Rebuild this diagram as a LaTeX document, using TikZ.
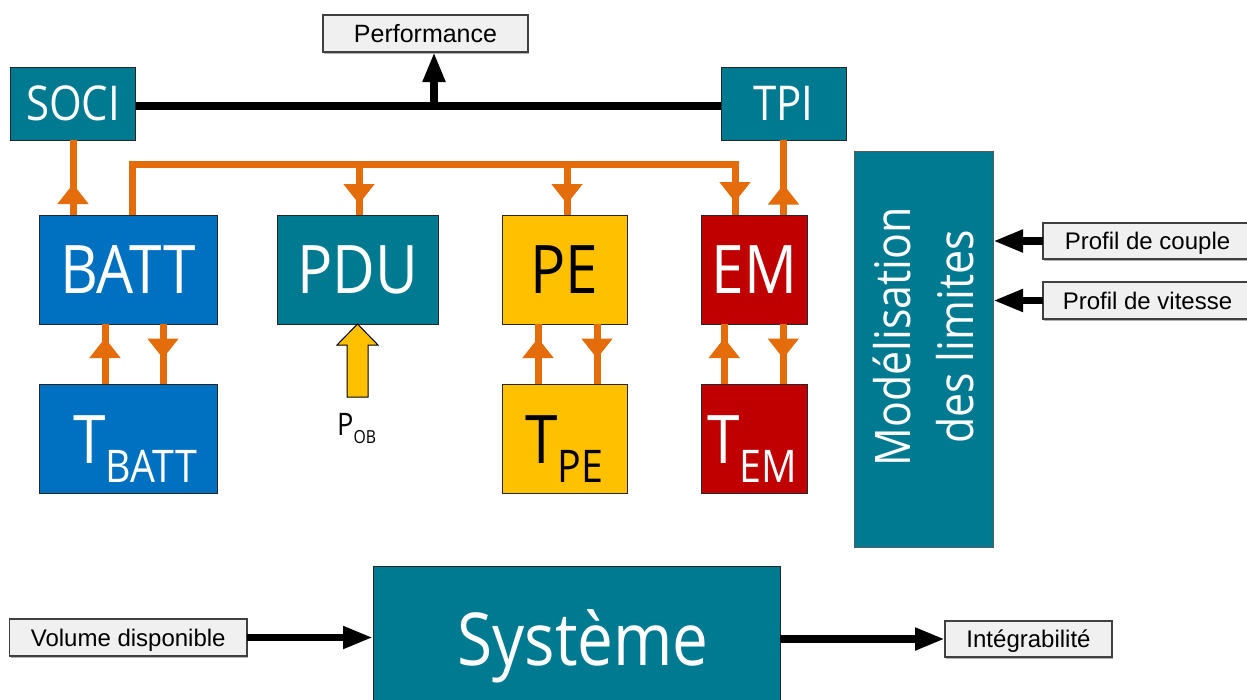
\documentclass[tikz,border=0pt]{standalone}
\usepackage{fontspec}
\setmainfont{Liberation Sans}
\newfontfamily\boxfont{Open Sans}[FakeStretch=0.875]
\usetikzlibrary{arrows.meta,decorations.markings,shadows}

\definecolor{petrol}{HTML}{007A91}
\definecolor{battblue}{HTML}{0070C0}
\definecolor{peyellow}{HTML}{FFC000}
\definecolor{emred}{HTML}{C00000}
\definecolor{wire}{HTML}{E46C0A}
\definecolor{tagfill}{HTML}{F0F0F0}

% temperature label: big T with a lowered index
\newcommand\tempsym[1]{T\raisebox{-19pt}{\fontsize{45}{45}\selectfont #1}}

\begin{document}
\begin{tikzpicture}[x=1pt,y=-1pt,
  blk/.style={draw=black!85,line width=1pt,inner sep=0pt,outer sep=0pt},
  bigtext/.style={font=\boxfont\fontsize{67}{67}\selectfont},
  midtext/.style={font=\boxfont\fontsize{48}{48}\selectfont},
  tag/.style={draw=black!75,line width=1.2pt,fill=tagfill,inner sep=0pt,outer sep=0pt,
    text height=17.5pt,text depth=0pt,
    general shadow={fill=black!30,shadow xshift=1pt,shadow yshift=-1.5pt},
    font=\fontsize{24}{24}\selectfont},
  wireline/.style={draw=wire,line width=7pt},
  oarrow/.style={wireline,postaction={decorate},
    decoration={markings,mark=at position #1 with {\arrow[wire]{Triangle[length=20pt,width=30pt]}}}},
  blackline/.style={draw=black,line width=8pt},
  barrow/.style={draw=black,line width=7.5pt,-{Triangle[length=30pt,width=21pt]}},
  yarrow/.style={draw=black,line width=1pt,fill=peyellow,line join=miter},
]
\useasboundingbox (0,0) rectangle (1247,699);

% ---- top row: indicators
\node[tag,minimum width=205pt,minimum height=37pt,font=\fontsize{25}{25}\selectfont]
  (perf) at (425.5,33.5) {Performance};
\node[blk,fill=petrol,text=white,midtext,minimum width=125.5pt,minimum height=73pt]
  (soci) at (73,103.5) {SOCI};
\node[blk,fill=petrol,text=white,midtext,minimum width=125pt,minimum height=73pt]
  (tpi) at (783.5,103.5) {TPI};

% ---- components
\node[blk,fill=battblue,text=white,bigtext,minimum width=178pt,minimum height=109pt]
  (batt) at (128,269.5) {BATT};
\node[blk,fill=battblue,minimum width=178pt,minimum height=109pt]
  (tbatt) at (128,438.5) {};
\node[blk,fill=petrol,text=white,bigtext,minimum width=161pt,minimum height=109pt]
  (pdu) at (357.5,269.5) {PDU};
\node[blk,fill=peyellow,text=black,bigtext,minimum width=125pt,minimum height=109pt]
  (pe) at (564.5,269.5) {PE};
\node[blk,fill=peyellow,minimum width=125pt,minimum height=109pt]
  (tpe) at (564.5,438.5) {};
\node[blk,fill=emred,text=white,bigtext,minimum width=105.5pt,minimum height=109pt]
  (em) at (754.25,269.5) {EM};
\node[blk,fill=emred,minimum width=105.5pt,minimum height=109pt]
  (tem) at (754.25,438.5) {};

\node[anchor=base west,inner sep=0pt,text=white,bigtext] (tbattlbl) at (73,463) {\tempsym{BATT}};
\node[anchor=base west,inner sep=0pt,text=black,bigtext] (tpelbl) at (525,463) {\tempsym{PE}};
\node[anchor=base west,inner sep=0pt,text=white,bigtext] (temlbl) at (707,463) {\tempsym{EM}};

% ---- limits model
\node[blk,draw=black!65,fill=petrol,minimum width=139pt,minimum height=396pt]
  (model) at (923.5,349) {};
\node[rotate=90,align=center,text=white,inner sep=0pt,
  font=\boxfont\fontsize{49}{63}\selectfont] (modtext) at (923.5,337)
  {Modélisation\\des limites};
\node[tag,minimum width=209pt,minimum height=36pt] (couple) at (1147.5,241) {Profil de couple};
\node[tag,minimum width=209pt,minimum height=37pt] (vitesse) at (1147.5,300.5) {Profil de vitesse};

% ---- system
\node[blk,fill=petrol,minimum width=407pt,minimum height=146pt] (sys) at (576.5,639) {};
\node[anchor=base,inner sep=0pt,text=white,font=\boxfont\fontsize{73}{73}\selectfont]
  (systext) at (583,665) {Système};
\node[tag,minimum width=237.5pt,minimum height=37pt] (vol) at (128.25,637.5) {Volume disponible};
\node[tag,minimum width=167pt,minimum height=36pt] (integ) at (1028.5,639) {Intégrabilité};

% ---- power-demand input
\draw[yarrow] (pdu.south) -- ++(20.5,21) -- ++(-10,0) -- ++(0,52) -- ++(-21,0)
  -- ++(0,-52) -- ++(-10,0) -- cycle;
\node[anchor=base west,inner sep=0pt,font=\boxfont\fontsize{31}{31}\selectfont]
  (pob) at (337,435) {P\raisebox{-8pt}{\fontsize{18}{18}\selectfont OB}};

% ---- orange exchange bus
\coordinate (busL) at (132,164.5);
\coordinate (busR) at (735,164.5);
\coordinate (bPDU) at (359,164.5);
\coordinate (bPE) at (567,164.5);
\draw[wireline] (busL |- batt.north) -- (busL) -- (busR) -- (busR |- em.north);
\draw[oarrow=37.5pt] (busR) -- (busR |- em.north);
\draw[oarrow=39.5pt] (bPDU) -- (bPDU |- pdu.north);
\draw[oarrow=39.5pt] (bPE) -- (bPE |- pe.north);
\draw[oarrow=31pt] (batt.north -| soci.south) -- (soci.south);
\draw[oarrow=30.5pt] (em.north -| tpi.south) -- (tpi.south);

% ---- thermal loops
\draw[oarrow=46pt] ([xshift=-23pt]tbatt.north) -- ([xshift=-23pt]batt.south);
\draw[oarrow=34.5pt] ([xshift=35pt]batt.south) -- ([xshift=35pt]tbatt.north);
\draw[oarrow=46pt] ([xshift=-26.5pt]tpe.north) -- ([xshift=-26.5pt]pe.south);
\draw[oarrow=34.5pt] ([xshift=32.5pt]pe.south) -- ([xshift=32.5pt]tpe.north);
\draw[oarrow=46pt] ([xshift=-30pt]tem.north) -- ([xshift=-30pt]em.south);
\draw[oarrow=34.5pt] ([xshift=29pt]em.south) -- ([xshift=29pt]tem.north);

% ---- black signal paths
\coordinate (junc) at (434,106);
\draw[blackline] ([yshift=-2.5pt]soci.east) -- ([yshift=-2.5pt]tpi.west);
\draw[barrow] (junc) -- (junc |- perf.south);
\draw[barrow] (couple.west) -- (couple.west -| model.east);
\draw[barrow] (vitesse.west) -- (vitesse.west -| model.east);
\draw[barrow] (vol.east) -- (vol.east -| sys.west);
\draw[barrow] (sys.east |- integ.west) -- (integ.west);
\end{tikzpicture}
\end{document}
